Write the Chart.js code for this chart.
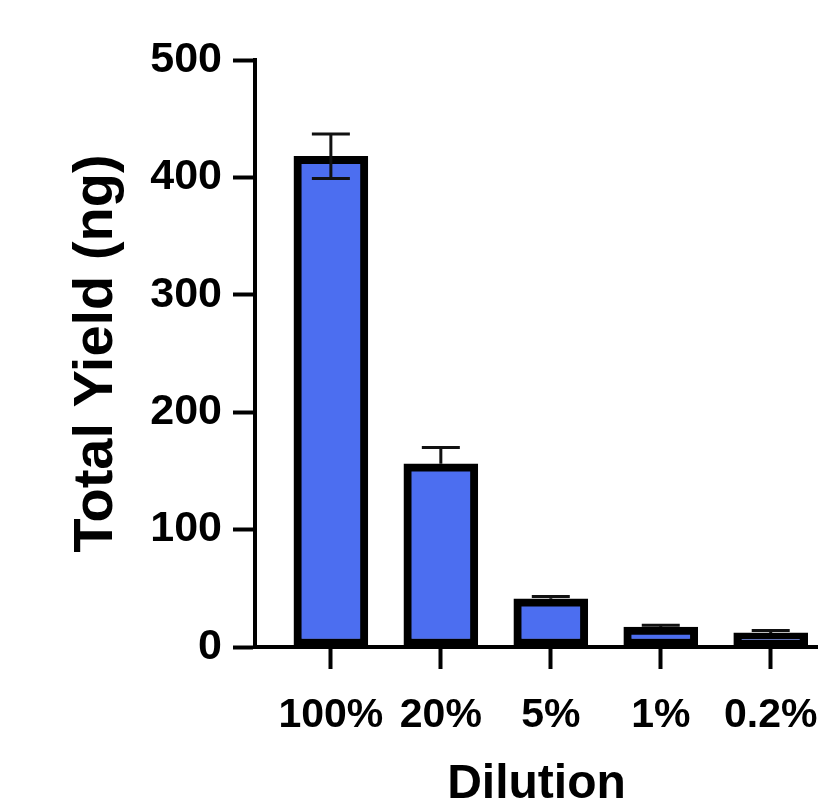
<!DOCTYPE html>
<html lang="en">
<head>
  <meta charset="UTF-8" />
  <title>Total Yield by Dilution</title>
  <script src="https://cdn.jsdelivr.net/npm/chart.js"></script>
  <style>
    body {
      margin: 0;
      padding: 0;
      background: #fff;
      overflow: hidden;
    }
    .wrap {
      width: 818px;
      height: 798px;
    }
  </style>
</head>
<body>
  <div class="wrap">
    <canvas id="yieldChart" width="818" height="798"></canvas>
  </div>

  <script>
    // Data
    const dilutions = ['100%', '20%', '5%', '1%', '0.2%'];
    const yieldNg = [418, 156, 41, 17, 12];
    const errUp = [19, 14, 2, 1.5, 2];
    const errDown = [19, 0, 0, 0, 0];
    const yTicks = [0, 100, 200, 300, 400, 500];

    const FONT = "'Liberation Sans', Arial, Helvetica, sans-serif";

    // error bars drawn through the chart's own scales
    const errorBars = {
      id: 'errorBars',
      afterDatasetsDraw(chart) {
        const ctx = chart.ctx;
        const xs = chart.scales.x;
        const ys = chart.scales.y;
        ctx.save();
        ctx.strokeStyle = '#111';
        ctx.lineWidth = 3;
        yieldNg.forEach((v, i) => {
          const x = xs.getPixelForValue(i);
          const yMid = ys.getPixelForValue(v);
          const yHi = ys.getPixelForValue(v + errUp[i]);
          const half = 19;
          ctx.beginPath();
          ctx.moveTo(x, yMid);
          ctx.lineTo(x, yHi);
          ctx.moveTo(x - half, yHi);
          ctx.lineTo(x + half, yHi);
          if (errDown[i] > 0) {
            const yLo = ys.getPixelForValue(v - errDown[i]);
            ctx.moveTo(x, yMid);
            ctx.lineTo(x, yLo);
            ctx.moveTo(x - half, yLo);
            ctx.lineTo(x + half, yLo);
          }
          ctx.stroke();
        });
        ctx.restore();
      }
    };

    new Chart(document.getElementById('yieldChart'), {
      type: 'bar',
      data: {
        datasets: [{
          data: yieldNg.map((v, i) => ({ x: i, y: v })),
          backgroundColor: '#4c6ef0',
          borderColor: '#000',
          borderWidth: 8,
          borderSkipped: false,
          barThickness: 74
        }]
      },
      options: {
        responsive: false,
        animation: false,
        layout: { padding: { top: 60, left: 0, right: 0, bottom: 0 } },
        plugins: {
          legend: { display: false },
          tooltip: { enabled: false }
        },
        scales: {
          x: {
            type: 'linear',
            min: -0.69,
            max: 4.43,
            offset: false,
            afterFit(scale) {
              scale.height = 151;
              scale.paddingLeft = 0;
              scale.paddingRight = 0;
            },
            afterBuildTicks(scale) {
              scale.ticks = dilutions.map((_, i) => ({ value: i }));
            },
            grid: {
              offset: false,
              drawOnChartArea: false,
              tickLength: 22,
              tickWidth: 4,
              tickColor: '#000'
            },
            border: { display: true, width: 4, color: '#000' },
            ticks: {
              padding: 22,
              color: '#000',
              maxRotation: 0,
              autoSkip: false,
              font: { family: FONT, size: 41, weight: 'bold' },
              callback: (value) => dilutions[value]
            },
            title: {
              display: true,
              text: 'Dilution',
              color: '#000',
              padding: 0,
              font: { family: FONT, size: 48, weight: 'bold', lineHeight: 0.56 }
            }
          },
          y: {
            min: 0,
            max: 500,
            afterFit(scale) { scale.width = 255; },
            afterBuildTicks(scale) {
              scale.ticks = yTicks.map(v => ({ value: v }));
            },
            grid: {
              drawOnChartArea: false,
              tickLength: 22,
              tickWidth: 4,
              tickColor: '#000'
            },
            border: { display: true, width: 4, color: '#000' },
            ticks: {
              padding: 11,
              color: '#000',
              font: { family: FONT, size: 43, weight: 'bold' }
            },
            title: {
              display: true,
              text: 'Total Yield (ng)',
              color: '#000',
              padding: { top: 69, bottom: 0 },
              font: { family: FONT, size: 56, weight: 'bold', lineHeight: 1 }
            }
          }
        }
      },
      plugins: [errorBars]
    });
  </script>
</body>
</html>
